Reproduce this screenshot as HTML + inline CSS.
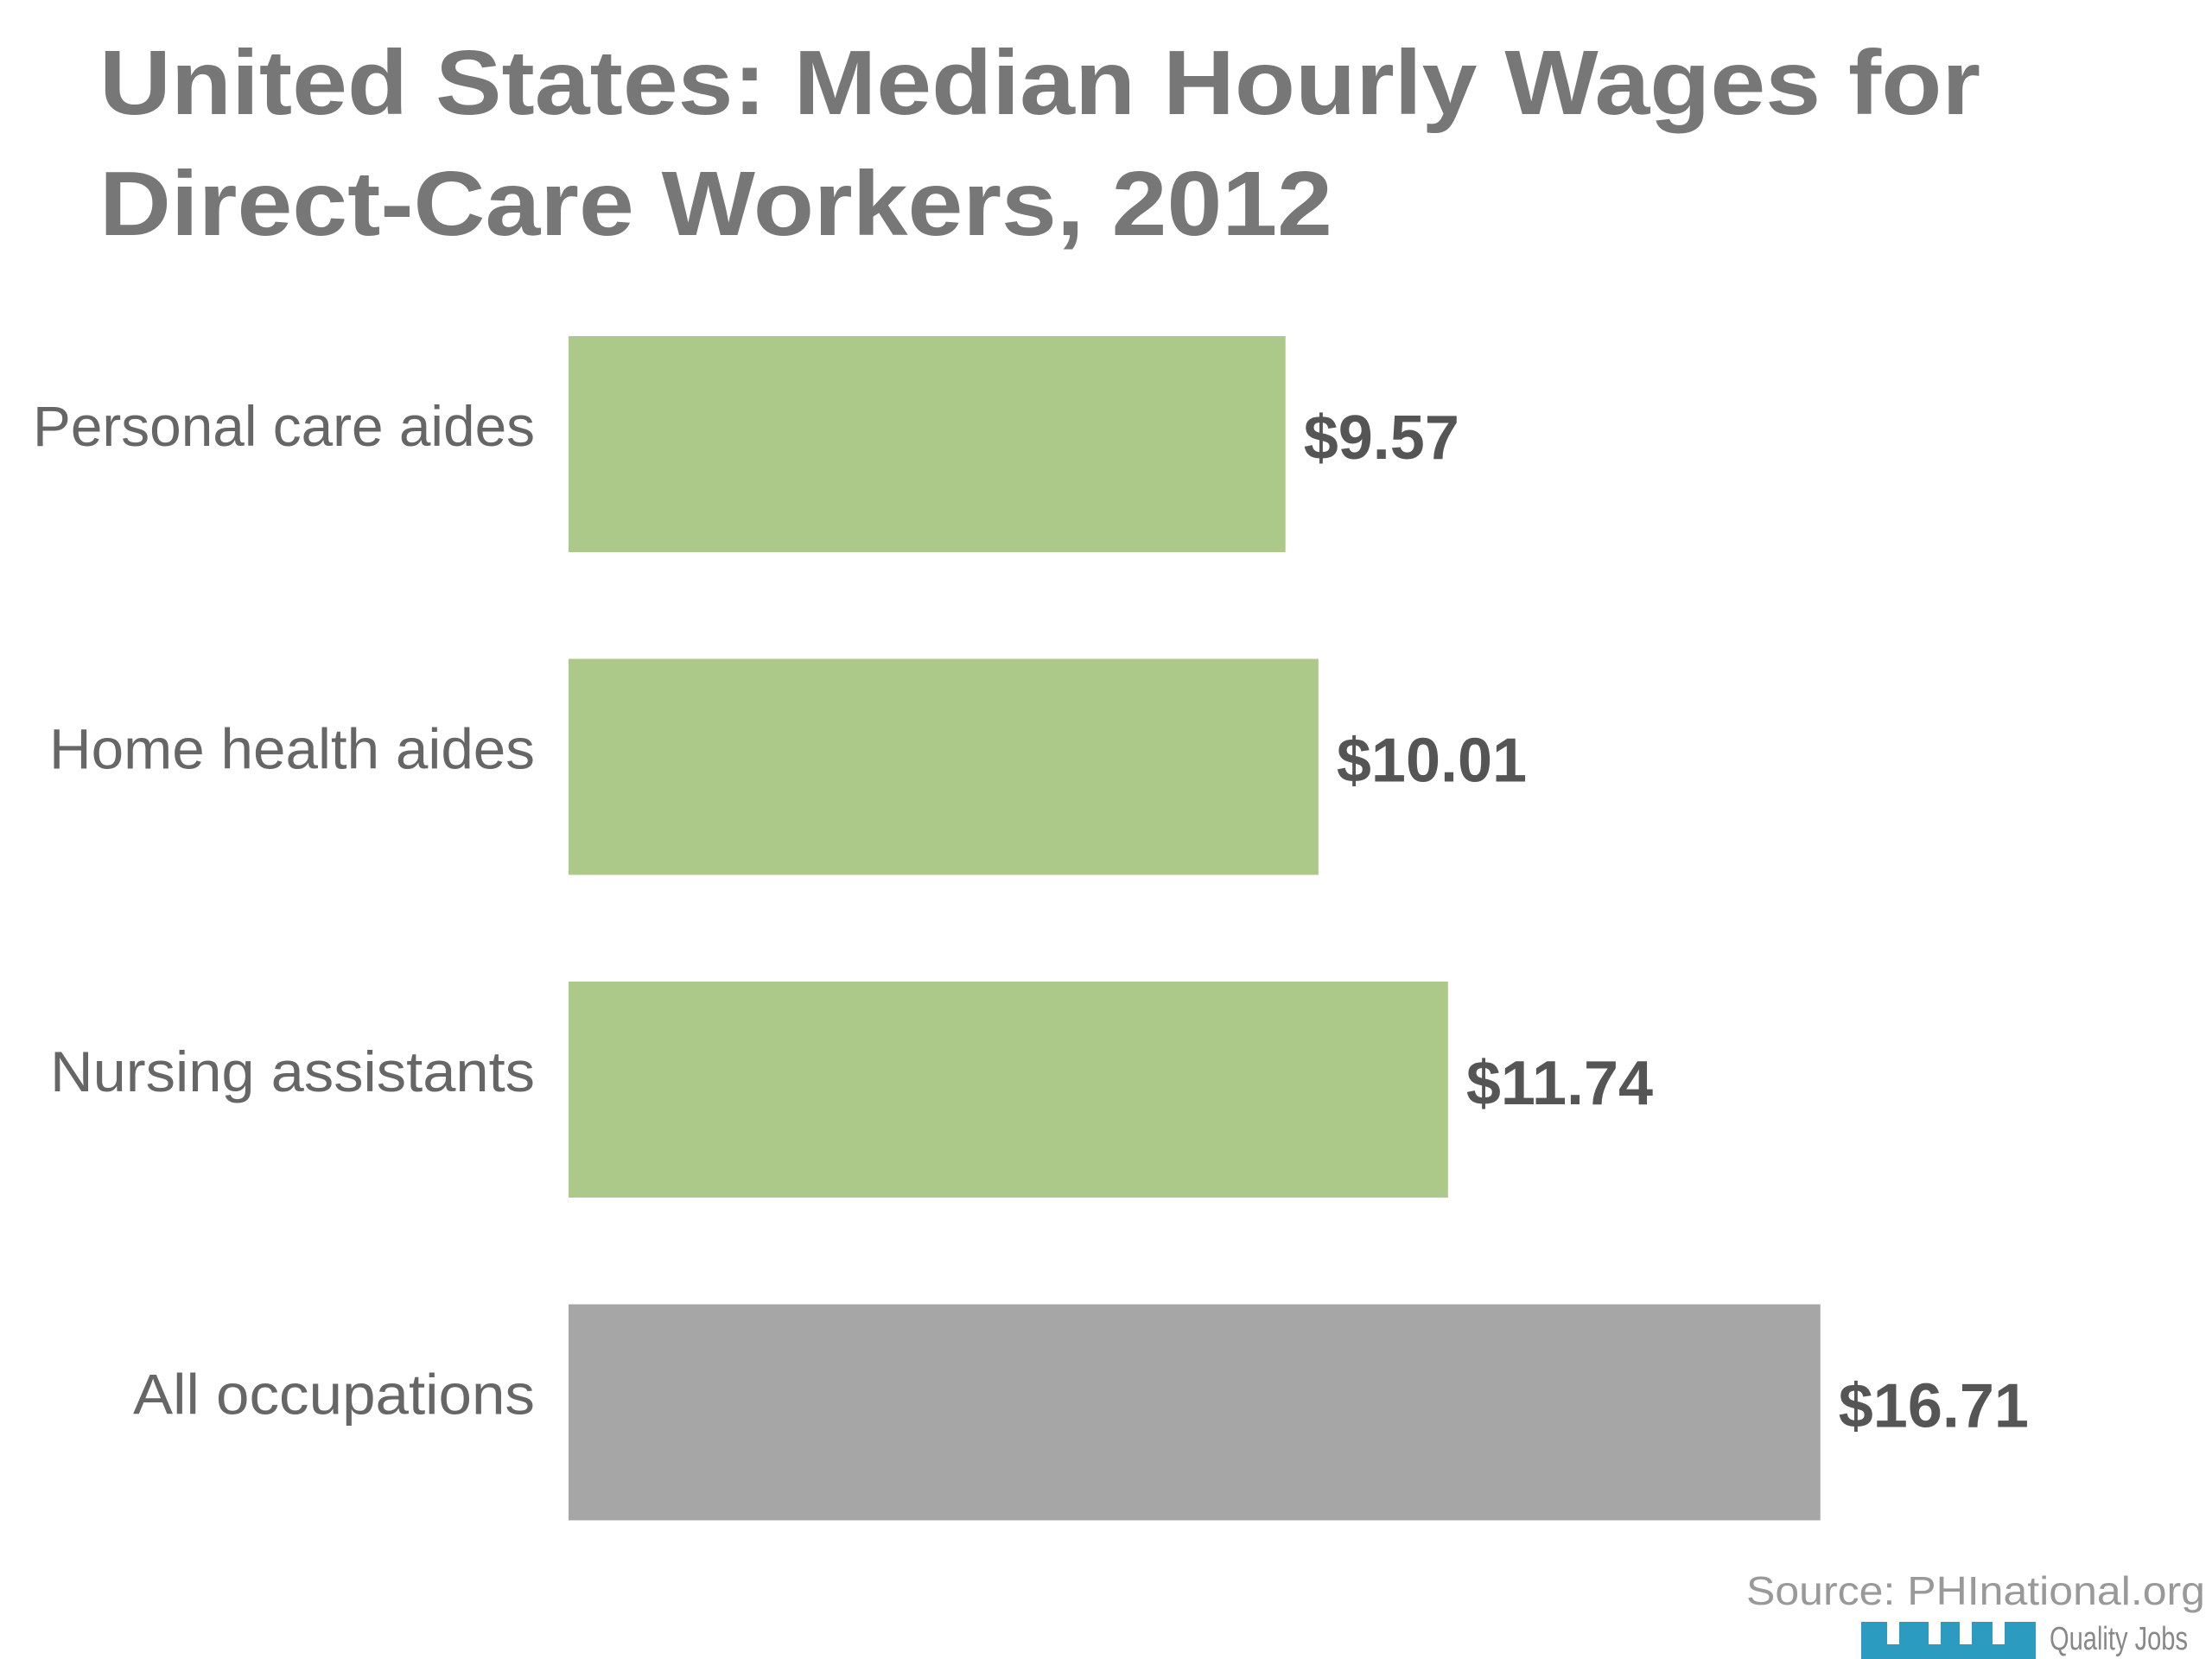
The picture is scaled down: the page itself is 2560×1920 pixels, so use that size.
<!DOCTYPE html>
<html><head><meta charset="utf-8"><style>
html,body{margin:0;padding:0;background:#fff;}
svg{display:block;}
</style></head><body>
<svg id="chart" width="2560" height="1920" viewBox="0 0 2560 1920" xmlns="http://www.w3.org/2000/svg" font-family="Liberation Sans, sans-serif">
<g fill="#777" font-weight="bold" font-size="106">
<text x="115" y="132" textLength="2177" lengthAdjust="spacingAndGlyphs">United States: Median Hourly Wages for</text>
<text x="115" y="272" textLength="1427" lengthAdjust="spacingAndGlyphs">Direct-Care Workers, 2012</text>
</g>
<g id="bars"></g>
<g>
<text x="2021" y="1857" font-size="46" fill="#999" textLength="531" lengthAdjust="spacingAndGlyphs">Source: PHInational.org</text>
<rect x="2154" y="1877" width="202" height="43" fill="#2b9bbf"/>
<rect x="2184" y="1877" width="14" height="26" fill="#fff"/>
<rect x="2232" y="1877" width="14" height="26" fill="#fff"/>
<rect x="2268" y="1877" width="14" height="26" fill="#fff"/>
<rect x="2306" y="1877" width="14" height="26" fill="#fff"/>
<text x="2372" y="1909" font-size="38" fill="#888" textLength="160" lengthAdjust="spacingAndGlyphs">Quality Jobs</text>
</g>
</svg>
<script>
const categories = ["Personal care aides","Home health aides","Nursing assistants","All occupations"];
const values = [9.57, 10.01, 11.74, 16.71];
const valueLabels = ["$9.57","$10.01","$11.74","$16.71"];
const barColors = ["#adc98a","#adc98a","#adc98a","#a6a6a6"];
const NS="http://www.w3.org/2000/svg";
const x0=658, pxPerUnit=86.7;
function xScale(v){return x0+v*pxPerUnit;}
function yTop(i){return 389+i*373.5;}
const barH=250;
const g=document.getElementById('bars');
const labelWidths=[581,562,561,465];
categories.forEach((c,i)=>{
  const r=document.createElementNS(NS,'rect');
  r.setAttribute('x',x0);r.setAttribute('y',yTop(i));
  r.setAttribute('width',xScale(values[i])-x0);r.setAttribute('height',barH);
  r.setAttribute('fill',barColors[i]);
  
  
  g.appendChild(r);
  const t=document.createElementNS(NS,'text');
  t.setAttribute('x',619);t.setAttribute('y',yTop(i)+127);
  t.setAttribute('text-anchor','end');t.setAttribute('font-size','66');t.setAttribute('fill','#666');
  t.setAttribute('textLength',labelWidths[i]);t.setAttribute('lengthAdjust','spacingAndGlyphs');
  t.textContent=c;
  
  
  g.appendChild(t);
  const v=document.createElementNS(NS,'text');
  v.setAttribute('x',xScale(values[i])+21);v.setAttribute('y',yTop(i)+142);
  v.setAttribute('font-size','72');v.setAttribute('font-weight','bold');v.setAttribute('fill','#555');
  v.textContent=valueLabels[i];
  
  
  g.appendChild(v);
});
</script>
</body></html>
